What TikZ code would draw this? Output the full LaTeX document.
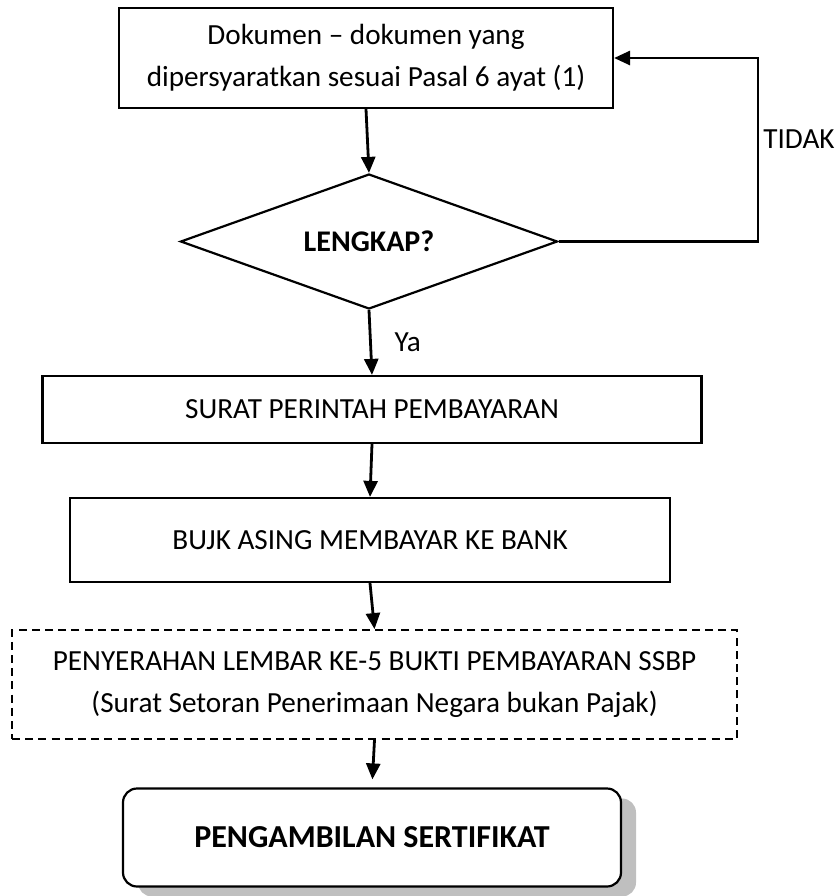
\documentclass[tikz,border=0pt]{standalone}
\usepackage{fontspec}
\setmainfont{Carlito}
\usepackage{tikz}
\usetikzlibrary{shapes.geometric}
\usetikzlibrary{arrows.meta}
\usetikzlibrary{shadows}

\tikzset{
  kotak/.style={draw, line width=1.1pt, align=center, inner sep=0pt},
  putus/.style={kotak, line width=0.9pt, dash pattern=on 4pt off 2.6pt},
  panah/.style={line width=1.4pt, -{Triangle[length=8pt,width=7pt]}},
}

\begin{document}
\begin{tikzpicture}[x=0.5pt,y=-0.5pt, font=\fontsize{14.6}{21}\selectfont]
\useasboundingbox (0,0) rectangle (838,896);
\node[kotak, minimum width=247pt, minimum height=50pt] (dok) at (366,58) {Dokumen – dokumen yang\\dipersyaratkan sesuai Pasal 6 ayat (1)};
\node[draw, diamond, aspect=2.79, line width=1.1pt, inner sep=0pt, minimum width=188.5pt, minimum height=67.5pt, font=\fontsize{15}{21}\selectfont\bfseries] (lengkap) at (369,241.5) {LENGKAP?};
\node[kotak, minimum width=329.5pt, minimum height=33.5pt] (spp) at (372,409.5) {SURAT PERINTAH PEMBAYARAN};
\node[kotak, minimum width=300pt, minimum height=42pt] (bujk) at (370,540) {BUJK ASING MEMBAYAR KE BANK};
\node[putus, minimum width=362.5pt, minimum height=54.5pt] (ssbp) at (374.5,684.5) {PENYERAHAN LEMBAR KE-5 BUKTI PEMBAYARAN SSBP\\(Surat Setoran Penerimaan Negara bukan Pajak)};
\node[kotak, rounded corners=7pt, fill=white, minimum width=249pt, minimum height=49pt,
  drop shadow={shadow xshift=7.5pt, shadow yshift=-5pt, fill=black!25, opacity=1},
  font=\fontsize{16}{21}\selectfont\bfseries] (ambil) at (372,837.5) {PENGAMBILAN SERTIFIKAT};
\coordinate (balik) at (758,241.5);

\draw[panah] (dok.south) -- (lengkap.north);
\draw[panah] (lengkap.south) -- node[right=8pt] {Ya} (spp.north);
\draw[panah] (spp.south) -- (bujk.north);
\draw[panah] (bujk.south) -- (ssbp.north);
\draw[panah, shorten >=4pt] (ssbp.south) -- (ambil.north);
%%%%% jalur kembali jika tidak lengkap
\draw[panah] (lengkap.east) -- (balik) |- node[pos=0.28, right=1pt, inner sep=1pt] {TIDAK} (dok.east);
\end{tikzpicture}
\end{document}
